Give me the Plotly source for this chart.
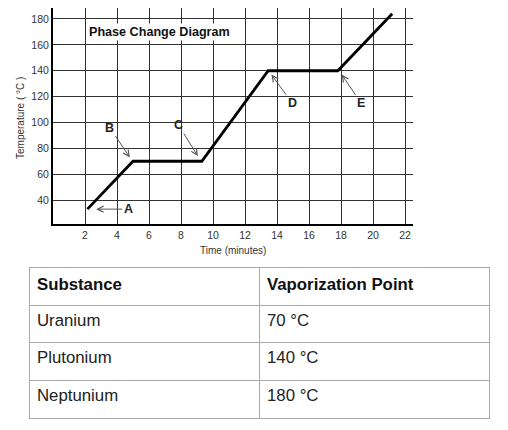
import plotly.graph_objects as go

# heating curve
time_min = [2.15, 5.0, 9.3, 13.45, 17.8, 21.2]
temp_c = [33, 70, 70, 140, 140, 184]

# point labels: text position and arrow tip
label_text = ["A", "B", "C", "D", "E"]
label_x = [4.7, 3.55, 7.85, 14.95, 19.25]
label_y = [33, 96, 98, 115, 115]
tip_x = [2.7, 4.8, 9.05, 13.65, 18.05]
tip_y = [33, 73, 74, 137, 137]

# table below the chart
substances = ["Uranium", "Plutonium", "Neptunium"]
vapor_points = ["70 °C", "140 °C", "180 °C"]

# page has an 8px body margin, so the figure is 16px smaller than the window
W, H = 492, 414

fig = go.Figure()

fig.add_trace(go.Scatter(
    x=time_min, y=temp_c, mode="lines",
    line=dict(color="black", width=2.8),
    showlegend=False, hoverinfo="skip",
))

for t, lx, ly, tx, ty in zip(label_text, label_x, label_y, tip_x, tip_y):
    fig.add_annotation(
        x=tx, y=ty, ax=lx, ay=ly, xref="x", yref="y", axref="x", ayref="y",
        text="<b>" + t + "</b>", showarrow=True,
        arrowhead=5, arrowsize=1.2, arrowwidth=1, arrowcolor="#555",
        font=dict(family="Arial", size=12.5, color="#222"),
    )

fig.add_annotation(
    x=6.64, y=170, xref="x", yref="y",
    text="<b>Phase Change Diagram</b>", showarrow=False,
    bgcolor="white", borderpad=1,
    font=dict(family="Arial", size=12.6, color="#111"),
)

# axis titles
fig.add_annotation(
    x=12 / W, y=1 - 110 / H, xref="paper", yref="paper",
    xanchor="center", yanchor="middle",
    text="Temperature ( °C )", textangle=-90, showarrow=False,
    font=dict(family="Arial", size=10, color="#333"),
)
fig.add_annotation(
    x=225 / W, y=1 - 242 / H, xref="paper", yref="paper",
    xanchor="center", yanchor="middle",
    text="Time (minutes)", showarrow=False,
    font=dict(family="Arial", size=10, color="#333"),
)

fig.add_trace(go.Table(
    domain=dict(x=[21 / W, 481 / W], y=[1 - 413 / H, 1 - 259 / H]),
    columnwidth=[1, 1],
    header=dict(
        values=["<b>Substance</b>", "<b>Vaporization Point</b>"],
        align="left", height=38, fill_color="white",
        line=dict(color="#aaaaaa", width=1),
        font=dict(family="Arial", size=16.8, color="#111"),
    ),
    cells=dict(
        values=[substances, vapor_points],
        align="left", height=37.7, fill_color="white",
        line=dict(color="#aaaaaa", width=1),
        font=dict(family="Arial", size=16.8, color="#222"),
    ),
))

fig.update_xaxes(
    domain=[45 / W, 405 / W], range=[0, 22.5],
    tickvals=list(range(2, 23, 2)),
    showgrid=True, gridcolor="#333", gridwidth=1.4,
    showline=True, linecolor="black", linewidth=2,
    zeroline=False, ticks="",
    tickfont=dict(family="Arial", size=10.5, color="#333"),
    automargin=False,
)
fig.update_yaxes(
    domain=[1 - 216 / H, 1], range=[21.5, 188.5],
    tickvals=list(range(40, 181, 20)),
    showgrid=True, gridcolor="#333", gridwidth=1.4,
    showline=True, linecolor="black", linewidth=2,
    zeroline=False, ticks="",
    tickfont=dict(family="Arial", size=10.5, color="#333"),
    automargin=False,
)

fig.update_layout(
    width=W, height=H,
    margin=dict(l=0, r=0, t=0, b=0),
    plot_bgcolor="white", paper_bgcolor="white",
)

fig.write_html("out.html")
